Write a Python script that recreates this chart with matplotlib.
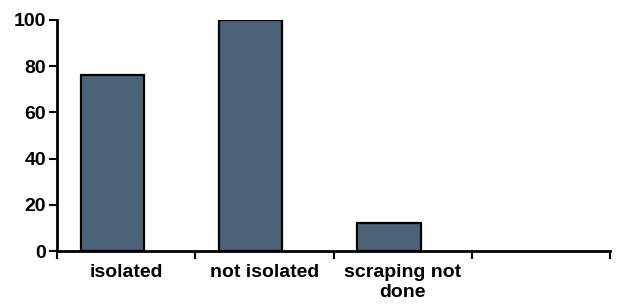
import matplotlib
matplotlib.use("Agg")
import matplotlib.pyplot as plt
import numpy as np

categories = ["isolated", "not isolated", "scraping not\ndone", ""]
values = [76, 100, 12, 0]
yticks = [0, 20, 40, 60, 80, 100]

plt.rcParams['font.family'] = ['Liberation Sans', 'DejaVu Sans']

fig = plt.figure(figsize=(6.17, 3.08), dpi=100)
ax = fig.add_axes([57/617, 1-251/308, (610-57)/617, (251-20)/308])

x = np.arange(len(categories))
ax.bar(x[:3] - 0.1, values[:3], width=0.46, color="#4a6379",
       edgecolor="black", linewidth=1.6, zorder=2)

ax.set_xlim(-0.5, len(categories) - 0.5)
ax.set_ylim(0, 100)
ax.set_yticks(yticks)
ax.set_yticklabels([str(v) for v in yticks], fontsize=14, fontweight="bold")

ax.set_xticks(np.arange(len(categories) + 1) - 0.5)
ax.set_xticklabels([])
ax.tick_params(axis="x", direction="out", length=6, width=1.5)
ax.tick_params(axis="y", direction="out", length=6, width=1.5, pad=2)
for i, c in enumerate(categories):
    ax.text(i, -5.5, c, ha="center", va="top", fontsize=14, fontweight="bold",
            transform=ax.transData, linespacing=1.25)

for s in ["top", "right"]:
    ax.spines[s].set_visible(False)
for s in ["left", "bottom"]:
    ax.spines[s].set_linewidth(2)

fig.savefig("out.png", dpi=100)
